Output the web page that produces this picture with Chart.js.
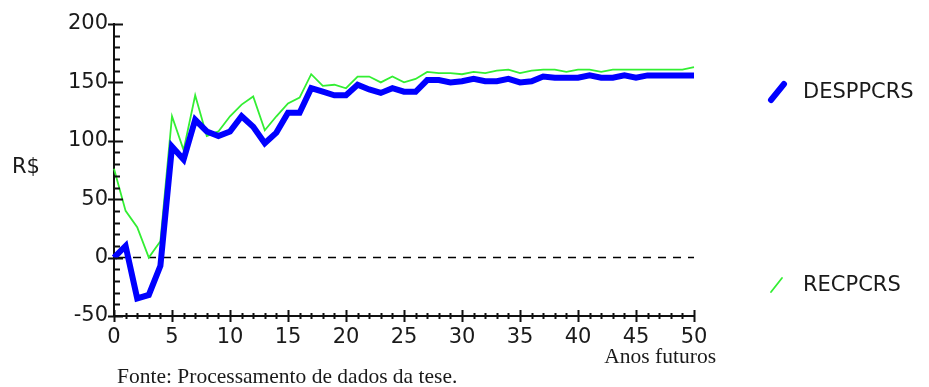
<!DOCTYPE html>
<html>
<head>
<meta charset="utf-8">
<script src="https://cdn.jsdelivr.net/npm/chart.js@4.4.1/dist/chart.umd.min.js"></script>
<style>
  html, body { margin: 0; padding: 0; background: #fff; }
  #wrap { width: 929px; height: 387px; position: relative; }
</style>
</head>
<body>
<div id="wrap"><canvas id="despChart" width="929" height="387"></canvas></div>
<script>
// Anos futuros
const years = [0, 1, 2, 3, 4, 5, 6, 7, 8, 9, 10, 11, 12, 13, 14, 15, 16, 17, 18, 19, 20,
  21, 22, 23, 24, 25, 26, 27, 28, 29, 30, 31, 32, 33, 34, 35, 36, 37, 38, 39, 40,
  41, 42, 43, 44, 45, 46, 47, 48, 49, 50];

const despPcrs = [0, 10, -35, -32, -7, 95, 84, 118, 108, 104, 108, 121, 112, 98, 107, 124, 124,
  145, 142, 139, 139, 148, 144, 141, 145, 142, 142, 152, 152, 150, 151, 153, 151, 151, 153,
  150, 151, 155, 154, 154, 154, 156, 154, 154, 156, 154, 156, 156, 156, 156, 156];

const recPcrs = [76, 40, 26, 0, 14, 121, 92, 139, 104, 108, 121, 131, 138, 109, 121, 132, 137,
  157, 147, 148, 145, 155, 155, 150, 155, 150, 153, 159, 158, 158, 157, 159, 158, 160, 161,
  158, 160, 161, 161, 159, 161, 161, 159, 161, 161, 161, 161, 161, 161, 161, 163];

const xTicks = [0, 5, 10, 15, 20, 25, 30, 35, 40, 45, 50];
const yTicks = [-50, 0, 50, 100, 150, 200];

const toPoints = (vals) => years.map((yr, i) => ({ x: yr, y: vals[i] }));

const BLUE = "#0000ff";
const GREEN = "#33ee33";
const SANS = "'DejaVu Sans', 'Liberation Sans', Arial, sans-serif";
const SERIF = "'Liberation Serif', 'Times New Roman', serif";

const extras = {
  id: "extras",
  beforeDatasetsDraw(chart) {
    const { ctx, scales: { x, y } } = chart;
    const y0 = y.getPixelForValue(0);
    ctx.save();
    ctx.strokeStyle = "#000";
    ctx.lineWidth = 1.5;
    ctx.setLineDash([8, 7]);
    ctx.beginPath();
    ctx.moveTo(x.getPixelForValue(0) + 4, y0);
    ctx.lineTo(x.getPixelForValue(50), y0);
    ctx.stroke();
    ctx.restore();
  },
  afterDraw(chart) {
    const { ctx, scales: { x, y } } = chart;
    const ax = x.getPixelForValue(0);
    const ay = y.getPixelForValue(-50);
    ctx.save();
    ctx.strokeStyle = "#111";
    ctx.lineWidth = 2;
    ctx.beginPath();
    // y ticks every 10
    for (let v = -50; v <= 200; v += 10) {
      const py = Math.round(y.getPixelForValue(v)) + 0.5;
      if (v % 50 === 0) {
        ctx.moveTo(ax - 6, py); ctx.lineTo(ax + 9, py);
      } else {
        ctx.moveTo(ax, py); ctx.lineTo(ax + 6, py);
      }
    }
    // x ticks every year
    for (let t = 0; t <= 50; t++) {
      const px = Math.round(x.getPixelForValue(t)) + 0.5;
      if (t % 5 === 0) {
        ctx.moveTo(px, ay - 6); ctx.lineTo(px, ay + 6);
      } else {
        ctx.moveTo(px, ay - 3); ctx.lineTo(px, ay + 3);
      }
    }
    ctx.stroke();

    // legend
    ctx.lineCap = "round";
    ctx.strokeStyle = BLUE;
    ctx.lineWidth = 6;
    ctx.beginPath();
    ctx.moveTo(771, 100); ctx.lineTo(784, 84);
    ctx.stroke();
    ctx.strokeStyle = GREEN;
    ctx.lineWidth = 1.8;
    ctx.beginPath();
    ctx.moveTo(771, 292); ctx.lineTo(782, 278);
    ctx.stroke();

    ctx.fillStyle = "#1a1a1a";
    ctx.font = "21px " + SANS;
    ctx.textBaseline = "middle";
    ctx.textAlign = "left";
    ctx.fillText("DESPPCRS", 803, 93);
    ctx.fillText("RECPCRS", 803, 286);
    ctx.fillText("R$", 12, 168);

    ctx.font = "21.5px " + SERIF;
    ctx.textAlign = "right";
    ctx.fillText("Anos futuros", 716, 357);
    ctx.textAlign = "left";
    ctx.fillText("Fonte: Processamento de dados da tese.", 117, 377);
    ctx.restore();
  }
};

const ctx = document.getElementById("despChart").getContext("2d");
const despChart = new Chart(ctx, {
  type: "line",
  data: {
    datasets: [
      {
        label: "DESPPCRS",
        data: toPoints(despPcrs),
        borderColor: BLUE,
        borderWidth: 6,
        pointRadius: 0,
        tension: 0,
        clip: false,
        fill: false
      },
      {
        label: "RECPCRS",
        data: toPoints(recPcrs),
        borderColor: GREEN,
        borderWidth: 1.8,
        pointRadius: 0,
        tension: 0,
        clip: false,
        fill: false
      }
    ]
  },
  options: {
    responsive: false,
    animation: false,
    layout: { padding: { left: 0, right: 235, top: 24, bottom: 0 } },
    plugins: {
      legend: { display: false },
      tooltip: { enabled: false }
    },
    scales: {
      x: {
        type: "linear",
        min: 0,
        max: 50,
        afterFit: (scale) => { scale.height = 71; },
        afterBuildTicks: (scale) => { scale.ticks = xTicks.map(v => ({ value: v })); },
        grid: { display: false, drawTicks: false, tickLength: 0 },
        border: { display: true, color: "#111", width: 2 },
        ticks: {
          color: "#1a1a1a",
          padding: 9,
          maxRotation: 0,
          font: { family: SANS, size: 21 }
        }
      },
      y: {
        min: -50,
        max: 200,
        afterFit: (scale) => { scale.width = 114; },
        afterBuildTicks: (scale) => { scale.ticks = yTicks.map(v => ({ value: v })); },
        grid: { display: false, drawTicks: false, tickLength: 0 },
        border: { display: true, color: "#111", width: 2 },
        ticks: {
          color: "#1a1a1a",
          padding: 6,
          font: { family: SANS, size: 21 }
        }
      }
    }
  },
  plugins: [extras]
});
</script>
</body>
</html>
